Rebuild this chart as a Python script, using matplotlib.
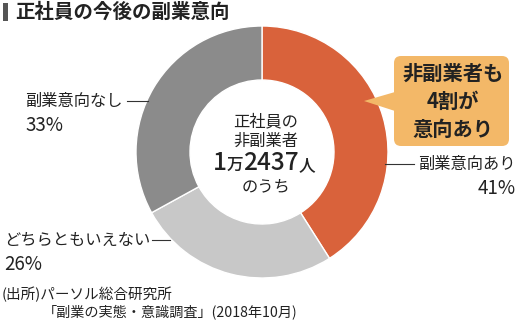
import matplotlib
matplotlib.use("Agg")
import matplotlib.pyplot as plt
from matplotlib.patches import FancyBboxPatch, Polygon, Rectangle
from matplotlib.offsetbox import TextArea, HPacker, AnnotationBbox

plt.rcParams['font.family'] = ['Noto Sans CJK JP', 'DejaVu Sans']

title = "正社員の今後の副業意向"
categories = ["副業意向あり", "どちらともいえない", "副業意向なし"]
values = [41, 26, 33]
colors = ["#d9623b", "#c8c8c8", "#8b8b8b"]
center_lines = ["正社員の", "非副業者", "のうち"]
center_number = [("1", 17.5), ("万", 12), ("2437", 17.5), ("人", 12)]
callout_lines = ["非副業者も", "4割が", "意向あり"]
source_lines = ["(出所)パーソル総合研究所", "「副業の実態・意識調査」(2018年10月)"]

W, H = 520, 322
fig = plt.figure(figsize=(W / 100, H / 100), dpi=100)
ax = fig.add_axes([0, 0, 1, 1])

def Y(py):
    return H - py

cx, cy, R, r = 262, 152, 126, 72
ax.pie(values, colors=colors, startangle=90, counterclock=False,
       center=(cx, Y(cy)), radius=R, frame=True,
       wedgeprops=dict(width=R - r, edgecolor='white', linewidth=1.0))
ax.set_xlim(0, W)
ax.set_ylim(0, H)
ax.set_aspect('equal')
ax.axis('off')

txt = '#222222'

# title
ax.add_patch(Rectangle((3, Y(21)), 5, 18, color='#555555', lw=0))
ax.text(15, Y(12), title, fontsize=14, fontweight='bold', va='center', ha='left', color=txt)

# center text
ax.text(cx + 4, Y(122), center_lines[0], fontsize=11.7, ha='center', va='center', color=txt)
ax.text(cx + 4, Y(141), center_lines[1], fontsize=11.7, ha='center', va='center', color=txt)
areas = [TextArea(s, textprops=dict(fontsize=fs, color=txt, fontweight='medium'))
         for s, fs in center_number]
box = HPacker(children=areas, align="baseline", pad=0, sep=0)
ab = AnnotationBbox(box, (cx + 2, Y(163)), frameon=False, box_alignment=(0.5, 0.5))
ax.add_artist(ab)
ax.text(cx + 4, Y(187), center_lines[2], fontsize=11.7, ha='center', va='center', color=txt)

# callout
ax.add_patch(FancyBboxPatch((394, Y(146)), 115, 90,
                            boxstyle="round,pad=0,rounding_size=7",
                            fc='#f3b868', ec='none'))
ax.add_patch(Polygon([(395, Y(92)), (364, Y(101)), (395, Y(111))], closed=True,
                     fc='#f3b868', ec='none'))
for i, s in enumerate(callout_lines):
    ax.text(453, Y(73 + i * 28), s, fontsize=14.6, fontweight='bold',
            ha='center', va='center', color=txt)

# labels
lab_fs = 11.7
pct_fs = 13.5
lc = '#333333'
ax.plot([385, 414], [Y(164), Y(164)], color=lc, lw=0.8)
ax.text(418, Y(164), categories[0], fontsize=lab_fs, ha='left', va='center', color=txt)
ax.text(516, Y(188), f"{values[0]}%", fontsize=pct_fs, ha='right', va='center', color=txt)

ax.plot([127, 148], [Y(101), Y(101)], color=lc, lw=0.8)
ax.text(25, Y(101), categories[2], fontsize=lab_fs, ha='left', va='center', color=txt)
ax.text(25, Y(125), f"{values[2]}%", fontsize=pct_fs, ha='left', va='center', color=txt)

ax.plot([152, 170], [Y(240), Y(240)], color=lc, lw=0.8)
ax.text(4, Y(240), categories[1], fontsize=lab_fs, ha='left', va='center', color=txt)
ax.text(4, Y(264), f"{values[1]}%", fontsize=pct_fs, ha='left', va='center', color=txt)

# source
ax.text(2, Y(294), source_lines[0], fontsize=10.5, ha='left', va='center', color=txt)
ax.text(43, Y(313), source_lines[1], fontsize=10.2, ha='left', va='center', color=txt)

fig.savefig("out.png", dpi=100, facecolor='white')
